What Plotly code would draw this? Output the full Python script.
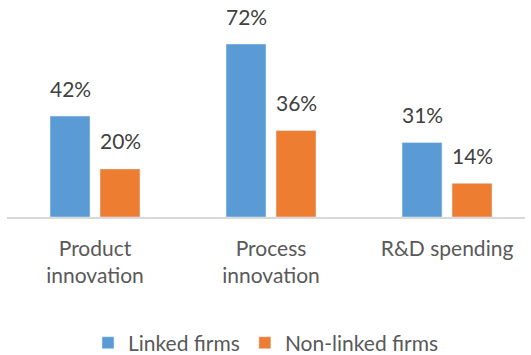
import plotly.graph_objects as go

categories = ["Product<br>innovation", "Process<br>innovation", "R&D spending"]
linked = [42, 72, 31]
non_linked = [20, 36, 14]

BLUE = "#5B9BD5"
ORANGE = "#ED7D31"
FONT = "Lato"

fig = go.Figure()
fig.add_trace(go.Bar(x=categories, y=linked, name="Linked firms", marker_color=BLUE))
fig.add_trace(go.Bar(x=categories, y=non_linked, name="Non-linked firms", marker_color=ORANGE))

# value labels sit well above the bars
for vals, shift in ((linked, -25), (non_linked, 25)):
    for c, v in zip(categories, vals):
        fig.add_annotation(x=c, y=v, text=f"{v}%", showarrow=False, xshift=shift,
                           yshift=28, font=dict(size=21, color="#404040", family=FONT))

fig.update_layout(
    width=531, height=355,
    margin=dict(l=7, r=6, t=20, b=138, autoexpand=False),
    barmode="group", bargap=0.432, bargroupgap=0.2,
    plot_bgcolor="white", paper_bgcolor="white",
    font=dict(family=FONT, size=21, color="#595959"),
    showlegend=True,
    legend=dict(orientation="h", x=0.5, xanchor="center", y=-0.64, yanchor="middle",
                font=dict(size=21, color="#595959"), itemwidth=30, traceorder="normal"),
)
fig.update_xaxes(range=[-0.5, 2.443], automargin=False, showline=True, linecolor="#D9D9D9",
                 linewidth=1.5, ticks="outside", ticklen=12, tickcolor="rgba(0,0,0,0)")
fig.update_yaxes(range=[0, 82], visible=False, showgrid=False, automargin=False)

# page body has a default 8px margin, drop it so the figure fills the window
fig.write_html("out.html", config={"displayModeBar": False},
               post_script="document.body.style.margin='0';")
